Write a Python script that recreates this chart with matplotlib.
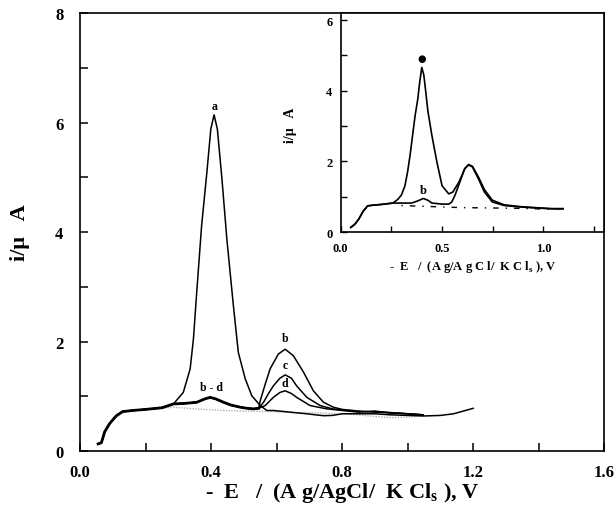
import numpy as np
import matplotlib.pyplot as plt

plt.rcParams["font.family"] = ["Liberation Serif", "DejaVu Serif"]
plt.rcParams["font.weight"] = "bold"
plt.rcParams["mathtext.fontset"] = "custom"
plt.rcParams["mathtext.rm"] = "Liberation Serif:bold"

# shared baseline of the voltammograms (potential in V, current in uA)
base_x = [0.055, 0.065, 0.075, 0.09, 0.11, 0.13, 0.16, 0.20, 0.25, 0.285]
base_y = [0.13, 0.15, 0.35, 0.50, 0.64, 0.72, 0.74, 0.76, 0.79, 0.86]

# curve a: large peak at ~0.41 V, long tail to 1.2 V
a_x = [0.315, 0.336, 0.346, 0.356, 0.371, 0.387, 0.399, 0.409, 0.419, 0.433,
       0.448, 0.468, 0.483, 0.504, 0.524, 0.55, 0.57, 0.59, 0.641, 0.692,
       0.72, 0.743, 0.77, 0.80, 0.85, 0.90, 0.95, 1.00, 1.05, 1.10, 1.14,
       1.17, 1.20]
a_y = [1.07, 1.50, 2.05, 2.90, 4.12, 5.09, 5.88, 6.14, 5.88, 4.97,
       3.87, 2.65, 1.80, 1.32, 1.01, 0.83, 0.74, 0.74, 0.71, 0.68,
       0.66, 0.645, 0.65, 0.68, 0.68, 0.68, 0.66, 0.65, 0.64, 0.65, 0.68,
       0.73, 0.78]

# small b-d bump at ~0.40 V
bump_x = [0.32, 0.356, 0.38, 0.397, 0.415, 0.438, 0.46, 0.489, 0.51, 0.529,
          0.545]
bump_y = [0.87, 0.89, 0.95, 0.98, 0.95, 0.89, 0.84, 0.80, 0.78, 0.77, 0.78]

b_x = [0.55, 0.565, 0.58, 0.605, 0.626, 0.651, 0.682, 0.712, 0.743, 0.773,
       0.80, 0.85, 0.90, 0.95, 1.00, 1.047]
b_y = [0.92, 1.22, 1.50, 1.77, 1.86, 1.74, 1.44, 1.10, 0.89, 0.80,
       0.76, 0.73, 0.71, 0.70, 0.68, 0.66]
c_x = [0.56, 0.575, 0.59, 0.61, 0.626, 0.645, 0.661, 0.692, 0.733, 0.77,
       0.85, 0.90, 0.95, 1.00, 1.047]
c_y = [0.89, 1.05, 1.19, 1.33, 1.39, 1.33, 1.19, 0.98, 0.83, 0.77,
       0.72, 0.72, 0.70, 0.68, 0.66]
d_x = [0.565, 0.59, 0.61, 0.626, 0.645, 0.661, 0.702, 0.753, 0.80, 0.85,
       0.90, 0.95, 1.00, 1.047]
d_y = [0.83, 0.98, 1.07, 1.10, 1.05, 0.98, 0.83, 0.77, 0.74, 0.71,
       0.73, 0.69, 0.68, 0.66]

# blank (supporting electrolyte), dotted grey
blank_x = [0.25, 0.285, 0.35, 0.438, 0.50, 0.59, 0.65, 0.70, 0.75,
           0.80, 0.85, 0.90, 0.95, 1.00, 1.05]
blank_y = [0.78, 0.80, 0.77, 0.74, 0.73, 0.72, 0.70, 0.70, 0.69,
           0.68, 0.66, 0.63, 0.61, 0.62, 0.64]

# inset curves
ins_base_x = [0.05, 0.07, 0.09, 0.11, 0.133, 0.16, 0.20, 0.258]
ins_base_y = [0.13, 0.22, 0.37, 0.58, 0.74, 0.76, 0.78, 0.82]
ins_e_x = [0.283, 0.30, 0.317, 0.33, 0.342, 0.355, 0.367, 0.38, 0.39, 0.40,
           0.41, 0.42, 0.43, 0.45, 0.475, 0.50, 0.533, 0.553, 0.583, 0.612,
           0.631, 0.65, 0.68, 0.709, 0.748, 0.806, 0.883, 0.961, 1.039, 1.097]
ins_e_y = [0.93, 1.05, 1.31, 1.70, 2.16, 2.75, 3.29, 3.75, 4.25, 4.66,
           4.45, 3.95, 3.43, 2.73, 1.97, 1.31, 1.08, 1.13, 1.41, 1.79,
           1.90, 1.84, 1.50, 1.13, 0.85, 0.75, 0.71, 0.68, 0.66, 0.66]
ins_b_x = [0.30, 0.35, 0.38, 0.408, 0.43, 0.45, 0.50, 0.533, 0.548, 0.563,
           0.59, 0.612, 0.631, 0.65, 0.68, 0.709, 0.748, 0.806, 0.883, 0.961,
           1.039, 1.097]
ins_b_y = [0.82, 0.82, 0.88, 0.95, 0.90, 0.82, 0.79, 0.79, 0.85, 1.03,
           1.45, 1.80, 1.91, 1.86, 1.55, 1.20, 0.90, 0.77, 0.72, 0.69,
           0.66, 0.66]
ins_blank_x = [0.30, 0.45, 0.60, 0.75, 0.90, 1.00, 1.10]
ins_blank_y = [0.75, 0.72, 0.69, 0.68, 0.67, 0.65, 0.66]

x_label = r"-  E   /  (A g/AgCl/  K Cl$_\mathrm{s}$ ), V"
x_label_small = r"-  E   /  (A g/A g C l/  K C l$_\mathrm{s}$ ), V"
y_label = "i/μ   A"

fig = plt.figure(figsize=(6.16, 5.06), dpi=100)
ax = fig.add_axes([0.13, 0.1067, 0.851, 0.8656])

lw = 1.1
ax.plot(blank_x, blank_y, color="#b0b0b0", lw=1.0, ls=(0, (1, 1)))
ax.plot(base_x + a_x, base_y + a_y, color="black", lw=lw)
for tx, ty in ((b_x, b_y), (c_x, c_y), (d_x, d_y)):
    ax.plot(base_x + bump_x + tx, base_y + bump_y + ty, color="black", lw=lw)
ax.plot(base_x + bump_x, base_y + bump_y, color="black", lw=2.0)

lab = dict(ha="center", va="bottom", fontsize=8.5, fontweight="bold")
ax.text(0.409, 6.2, "a", **lab)
ax.text(0.626, 1.95, "b", **lab)
ax.text(0.626, 1.47, "c", **lab)
ax.text(0.626, 1.13, "d", **lab)
ax.text(0.40, 1.06, "b - d", **lab)

ax.set_xlim(0, 1.6)
ax.set_ylim(0, 8)
ax.set_xticks([0, 0.4, 0.8, 1.2, 1.6])
ax.set_xticklabels(["0.0", "0.4", "0.8", "1.2", "1.6"])
ax.set_xticks([0.2, 0.6, 1.0, 1.4], minor=True)
ax.set_yticks([0, 2, 4, 6, 8])
ax.set_yticks([1, 3, 5, 7], minor=True)
ax.tick_params(which="both", direction="in", length=6, width=1.1,
               top=False, right=False)
ax.tick_params(axis="x", which="major", pad=9, labelsize=12)
ax.tick_params(axis="y", which="major", pad=12, labelsize=12)
for s in ax.spines.values():
    s.set_linewidth(1.2)
ax.set_xlabel(x_label, fontsize=16, fontweight="bold", labelpad=0)
ax.set_ylabel(y_label, fontsize=16, fontweight="bold", labelpad=18)

# inset
axi = fig.add_axes([0.553, 0.5395, 0.428, 0.4328])
axi.plot(ins_blank_x, ins_blank_y, color="black", lw=1.0,
         ls=(0, (1, 5, 4, 5)))
axi.plot(ins_base_x + ins_e_x, ins_base_y + ins_e_y, color="black", lw=1.2)
axi.plot(ins_base_x + ins_b_x, ins_base_y + ins_b_y, color="black", lw=1.2)
axi.text(0.40, 4.78, "●", ha="center", va="bottom", fontsize=7,
         family="DejaVu Sans")
axi.text(0.405, 1.03, "b", ha="center", va="bottom", fontsize=9,
         fontweight="bold")
axi.set_xlim(0, 1.3)
axi.set_ylim(0, 6.2)
axi.set_xticks([0, 0.5, 1.0])
axi.set_xticklabels(["0.0", "0.5", "1.0"])
axi.set_xticks([0.25, 0.75, 1.25], minor=True)
axi.set_yticks([0, 2, 4, 6])
axi.set_yticks([1, 3, 5], minor=True)
axi.tick_params(which="both", direction="in", length=4, width=1.0,
                top=False, right=False, labelsize=9)
axi.tick_params(axis="x", which="major", pad=7)
axi.tick_params(axis="y", which="major", pad=6)
for s in axi.spines.values():
    s.set_linewidth(1.2)
axi.set_xlabel(x_label_small, fontsize=9, fontweight="bold", labelpad=3)
axi.set_ylabel(y_label, fontsize=10, fontweight="bold")
axi.yaxis.set_label_coords(-0.165, 0.49)

fig.savefig("out.png", dpi=100)
